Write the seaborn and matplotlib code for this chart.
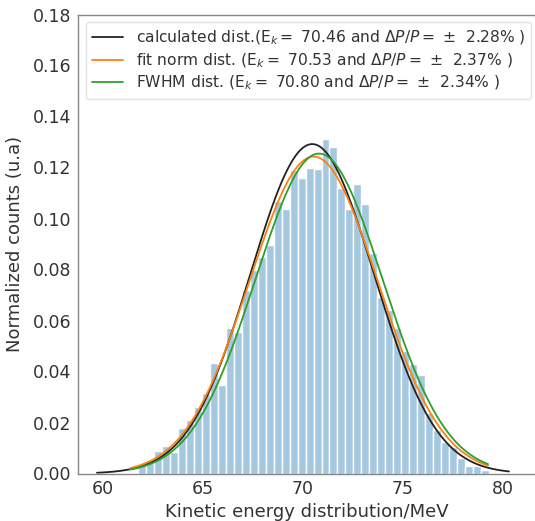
import numpy as np
import pandas as pd
import matplotlib
matplotlib.use("Agg")
import matplotlib.pyplot as plt
import seaborn as sns

# ---- data ----
bin_start = 61.76
bin_width = 0.3985
bar_heights = [0.0033, 0.0053, 0.0087, 0.0108, 0.0086, 0.0180, 0.0210, 0.0260,
               0.0315, 0.0433, 0.0347, 0.0570, 0.0556, 0.0720, 0.0800, 0.0850,
               0.0896, 0.1070, 0.1037, 0.1190, 0.1157, 0.1200, 0.1193, 0.1310,
               0.1280, 0.1120, 0.1036, 0.1135, 0.1057, 0.0864, 0.0693, 0.0640,
               0.0570, 0.0480, 0.0430, 0.0386, 0.0236, 0.0170, 0.0125, 0.0105,
               0.0060, 0.0030, 0.0030, 0.0014]

curve_labels = [
    r"calculated dist.(E$_k=$ 70.46 and $\Delta P/P=$ $\pm$  2.28% )",
    r"fit norm dist. (E$_k=$ 70.53 and $\Delta P/P=$ $\pm$  2.37% )",
    r"FWHM dist. (E$_k=$ 70.80 and $\Delta P/P=$ $\pm$  2.34% )",
]
curve_means = [70.46, 70.53, 70.80]
curve_sigmas = [3.088, 3.21, 3.18]
curve_ranges = [(59.7, 80.3), (61.35, 79.25), (61.35, 79.25)]
curve_colors = ["#222222", "#ff7f0e", "#2ca02c"]

yticks = [0.00, 0.02, 0.04, 0.06, 0.08, 0.10, 0.12, 0.14, 0.16, 0.18]
xticks = [60, 65, 70, 75, 80]

# ---- plotting ----
sns.set_style("white")
plt.rcParams["font.family"] = ["DejaVu Sans"]

fig = plt.figure(figsize=(5.35, 5.21), dpi=100)
W, H = 535, 521
left_px, right_px, top_px, bottom_px = 78, 535, 14.5, 473.5
ax = fig.add_axes([left_px / W, (H - bottom_px) / H,
                   (right_px - left_px) / W, (bottom_px - top_px) / H])

edges = [float(bin_start + bin_width * i) for i in range(len(bar_heights) + 1)]
centers = [(edges[i] + edges[i + 1]) / 2 for i in range(len(bar_heights))]
hist_df = pd.DataFrame({"energy": centers, "density": bar_heights})
sns.histplot(data=hist_df, x="energy", weights="density", bins=edges,
             stat="count", color="#1f77b4", alpha=0.4, edgecolor="white",
             linewidth=1.0, ax=ax, legend=False)

for lab, mu, sd, (a, b), col in zip(curve_labels, curve_means, curve_sigmas,
                                     curve_ranges, curve_colors):
    xs = np.linspace(a, b, 400)
    ys = np.exp(-0.5 * ((xs - mu) / sd) ** 2) / (sd * np.sqrt(2 * np.pi))
    sns.lineplot(x=xs, y=ys, color=col, linewidth=1.3, label=lab, ax=ax,
                 sort=False, estimator=None)

x0 = 60 - (103 - left_px) / 20.0
ax.set_xlim(x0, x0 + (right_px - left_px) / 20.0)
ax.set_ylim(0, 0.18)
ax.set_xticks(xticks)
ax.set_yticks(yticks)
ax.set_yticklabels([f"{v:.2f}" for v in yticks])
ax.tick_params(axis="both", labelsize=12.5, colors="#333333", length=0, pad=5)
ax.set_xlabel("Kinetic energy distribution/MeV", fontsize=13, color="#333333", labelpad=3)
ax.set_ylabel("Normalized counts (u.a)", fontsize=13, color="#333333", labelpad=6)
for s in ax.spines.values():
    s.set_color("#888888")
    s.set_linewidth(1.0)
ax.spines["right"].set_visible(False)

leg = ax.legend(loc="upper left", fontsize=11.2, frameon=True, fancybox=True,
                edgecolor="#dddddd", handlelength=2.0, borderaxespad=0.5,
                labelspacing=0.28)
for t in leg.get_texts():
    t.set_color("#333333")

fig.savefig("out.png", dpi=100)
